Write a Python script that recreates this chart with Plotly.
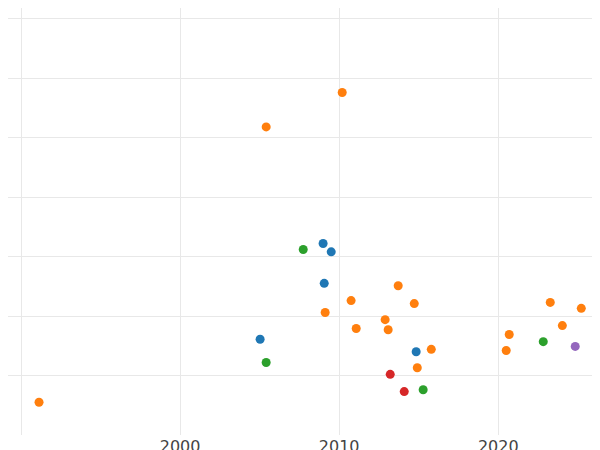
import plotly.graph_objects as go

def yr(px): return round(1990 + (px - 13) / 15.9, 2)
def val(py): return round((368 - py) / 59.5, 2)

orange_px = [31,258,334,317,343,348,377,380,390,406,409,423,498,501,542,554,573]
orange_py = [395,119,85,305,293,321,312,322,278,296,360,342,343,327,295,318,301]
blue_px = [315,323,316,252,408]
blue_py = [236,244,276,332,344]
green_px = [295,258,415,535]
green_py = [242,355,382,334]
red_px = [382,396]
red_py = [367,384]
purple_px = [567]
purple_py = [339]

series = [
    ("A", orange_px, orange_py, "#ff7f0e"),
    ("B", blue_px, blue_py, "#1f77b4"),
    ("C", green_px, green_py, "#2ca02c"),
    ("D", red_px, red_py, "#d62728"),
    ("E", purple_px, purple_py, "#9467bd"),
]

fig = go.Figure()
for name, xs, ys, c in series:
    fig.add_trace(go.Scatter(x=[yr(v) for v in xs], y=[val(v) for v in ys], mode="markers",
                             name=name, marker=dict(color=c, size=9), cliponaxis=False))

fig.update_layout(
    width=600, height=450, template="plotly_white", showlegend=False,
    margin=dict(l=0, r=0, t=0, b=23, pad=0, autoexpand=False),
    plot_bgcolor="white", paper_bgcolor="white",
    font=dict(family="DejaVu Sans", size=16, color="#444"),
)
fig.update_xaxes(range=[1989.18, 2026.9], tickvals=[1990, 2000, 2010, 2020],
                 ticktext=["", "2000", "2010", "2020"], showgrid=True,
                 gridcolor="#e8e8e8", zeroline=False, showline=False, ticklabelstandoff=0)
fig.update_yaxes(range=[-1.0, 6.18], dtick=1, showticklabels=False, showgrid=True,
                 gridcolor="#e8e8e8", zeroline=False)
fig.write_html("out.html")
